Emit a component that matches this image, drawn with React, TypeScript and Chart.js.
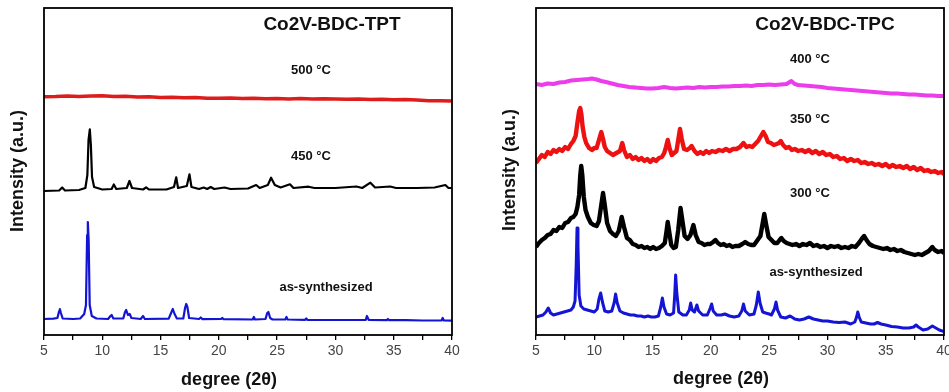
import React, { useEffect, useRef } from 'react';
import { Chart, registerables } from 'chart.js';
Chart.register(...registerables);

type P = [number, number];

const xMin = 5;
const xMax = 40;
const xStep = 2.5;
const yMax = 327;

// Left panel: Co2V-BDC-TPT
const tptAsSynth: P[] = [[5,16],[5.8,16.3],[6.15,17],[6.3,24],[6.36,26],[6.45,22],[6.6,16.5],[7.5,16],[8.1,16.5],[8.45,21],[8.6,30],[8.7,100],[8.76,113],[8.83,95],[8.92,30],[9.1,19],[9.5,16.5],[10.5,16],[10.7,19],[10.8,20],[10.95,16.5],[11.8,16.5],[11.95,23],[12.05,25],[12.2,20],[12.35,21],[12.5,17],[13.3,16],[13.5,19],[13.65,16],[15.7,16.3],[15.9,22],[16.05,26],[16.2,21],[16.4,16.5],[16.95,16.5],[17.1,27],[17.2,31],[17.3,28],[17.45,17],[18.3,16],[18.45,17.5],[18.6,15.8],[20.2,16.2],[20.3,17],[20.4,15.8],[22.9,15.5],[23,18],[23.1,15.5],[24,16],[24.15,22],[24.25,23],[24.4,17],[24.6,15.5],[25.7,15.5],[25.8,18],[25.9,15.5],[27.4,15.2],[27.5,16.5],[27.6,15],[29.5,15],[32.6,15],[32.7,19],[32.85,15.2],[34.4,14.8],[34.5,16],[34.6,14.8],[36,14.8],[37.5,14.5],[39.1,14.6],[39.2,17],[39.3,14.5],[40,14.3]];
const tpt450: P[] = [[5,144],[6.3,144.5],[6.56,147.5],[6.8,144.5],[8.0,145],[8.55,147],[8.72,160],[8.82,195],[8.93,205.7],[9.02,190],[9.12,158],[9.3,148],[10.0,145.5],[10.8,146],[10.99,150.5],[11.2,146],[12.1,147],[12.33,154],[12.55,147],[13.5,145.5],[13.76,147.7],[14,145.5],[15.5,145.5],[16.15,148],[16.34,157.7],[16.5,147],[17.25,149],[17.48,160.7],[17.65,148],[18.3,146],[18.7,147.5],[19,146],[19.3,148],[19.6,146],[20.48,147.5],[21,146],[22.5,146.5],[23.2,150],[23.5,147],[24.2,150],[24.48,157.3],[24.8,150],[25.3,147.5],[26.1,150.7],[26.4,147],[27.7,148.3],[28.2,147],[30,147],[31.8,148.5],[32.3,147],[33,152.3],[33.4,147.5],[34.7,148.5],[35.2,147],[37,147],[38.5,147.5],[39.43,150],[39.7,147],[40,147]];
const tpt500: P[] = [[5,238.3],[6,238.5],[7,239],[8,238.6],[9,239],[10,239.3],[11,238.5],[12,238.8],[13,238],[14,238.3],[15,237.5],[16,237.8],[17,237.2],[18,237.5],[19,236.8],[20,236.7],[21,237],[22,236.5],[23,236.8],[24,236.3],[25,236.5],[26,236],[27,236.4],[28,236],[29,236.2],[30,236],[31,235.8],[32,236],[33,235.5],[34,235.8],[35,235.3],[36,235.5],[37,235],[38,234.2],[39,234.3],[40,234]];

// Right panel: Co2V-BDC-TPC
const tpcAsSynth: P[] = [[5,18],[5.3,19],[5.6,20],[5.85,23],[6.05,27],[6.25,22],[6.5,20],[6.8,21],[7.1,22],[7.4,23],[7.7,24],[8.0,25],[8.2,28],[8.35,34],[8.45,70],[8.52,107],[8.6,90],[8.7,40],[8.85,29],[9.1,26],[9.4,25],[9.7,24],[10.0,23],[10.25,26],[10.4,36],[10.55,42],[10.7,33],[10.9,24],[11.2,23],[11.5,24],[11.7,32],[11.83,41],[11.97,32],[12.2,24],[12.5,22],[12.8,21],[13.1,20],[13.4,20],[13.7,19],[14,19],[14.3,18],[14.6,19],[14.9,18],[15.2,18],[15.5,19],[15.7,28],[15.84,37],[15.98,28],[16.2,21],[16.5,20],[16.8,22],[16.9,40],[16.98,60],[17.08,42],[17.25,23],[17.6,20],[17.9,20],[18.15,25],[18.27,32],[18.4,25],[18.6,23],[18.8,30],[18.95,24],[19.3,20],[19.7,20],[19.95,27],[20.07,31],[20.2,24],[20.5,20],[20.9,20],[21.2,21],[21.6,19],[22,18],[22.4,19],[22.65,24],[22.8,31],[22.95,24],[23.3,20],[23.7,21],[23.9,30],[24.07,43],[24.22,32],[24.45,23],[24.7,22],[25.0,21],[25.2,20],[25.45,26],[25.59,33],[25.72,25],[26.0,18],[26.4,17],[26.8,19],[27.2,16],[27.6,15],[28,16],[28.4,18],[28.8,16],[29.2,15],[29.6,14],[30,14],[30.5,13],[31,12.5],[31.5,13],[32,11],[32.35,13],[32.5,18],[32.6,23],[32.72,18],[32.9,13],[33.3,12],[33.7,11],[34,11],[34.3,12.5],[34.6,11],[35,10],[35.5,8.5],[36,8],[36.5,7],[37,7],[37.4,8],[37.6,10],[37.8,8],[38.2,5],[38.6,6],[39,9],[39.3,7],[39.6,5],[40,3.5]];
const tpc300: P[] = [[5,88],[5.25,92],[5.5,95],[5.75,97],[6,100],[6.25,101],[6.5,105],[6.75,104],[7,108],[7.25,107],[7.5,112],[7.75,113],[8,117],[8.2,118],[8.4,121],[8.55,128],[8.7,140],[8.8,160],[8.88,169],[8.97,160],[9.1,138],[9.25,125],[9.45,118],[9.7,112],[9.95,110],[10.2,109],[10.4,114],[10.6,130],[10.75,142],[10.9,130],[11.1,112],[11.35,104],[11.6,101],[11.85,99],[12.1,104],[12.35,118],[12.55,108],[12.8,97],[13.05,95],[13.3,91],[13.55,90],[13.8,88],[14.05,89],[14.3,87],[14.55,88],[14.8,86],[15.05,88],[15.3,86],[15.55,87],[15.8,89],[16.05,92],[16.2,104],[16.3,113],[16.42,104],[16.6,90],[16.8,87],[17.0,88],[17.2,105],[17.4,127],[17.55,115],[17.75,99],[18.0,96],[18.25,100],[18.5,110],[18.7,100],[18.95,93],[19.2,92],[19.45,90],[19.7,91],[19.95,91],[20.2,93],[20.4,95],[20.6,92],[20.85,90],[21.1,91],[21.35,89],[21.6,90],[21.85,88],[22.1,89],[22.4,89],[22.7,91],[22.95,93],[23.2,91],[23.45,90],[23.7,90],[23.95,94],[24.25,99],[24.45,112],[24.58,121],[24.75,110],[24.95,98],[25.2,95],[25.45,92],[25.7,92],[25.9,95],[26.05,97],[26.25,94],[26.5,92],[26.75,91],[27,90],[27.3,91],[27.6,89],[27.9,91],[28.2,90],[28.5,92],[28.8,89],[29.1,90],[29.4,88],[29.7,89],[30,87],[30.3,89],[30.6,88],[30.9,89],[31.2,87],[31.5,88],[31.8,87],[32.1,89],[32.4,88],[32.7,92],[33.0,97],[33.15,99],[33.35,95],[33.6,91],[33.9,89],[34.2,88],[34.5,87],[34.8,86],[35.1,87],[35.4,85],[35.7,86],[36,84],[36.3,85],[36.6,83],[36.9,82],[37.2,81],[37.5,80],[37.8,81],[38.1,80],[38.4,82],[38.7,84],[39.0,88],[39.2,85],[39.5,83],[39.8,84],[40,82]];
const tpc350: P[] = [[5,172],[5.25,176],[5.5,180],[5.75,178],[6,183],[6.25,181],[6.5,185],[6.75,183],[7,186],[7.25,184],[7.5,188],[7.75,186],[8,191],[8.2,194],[8.4,199],[8.55,212],[8.7,224],[8.8,227],[8.9,220],[9.0,208],[9.15,198],[9.3,192],[9.55,187],[9.8,185],[10.0,187],[10.2,187],[10.45,197],[10.6,203],[10.75,196],[10.9,188],[11.1,184],[11.35,182],[11.6,180],[11.9,182],[12.2,184],[12.4,192],[12.55,185],[12.8,178],[13.05,180],[13.3,176],[13.55,178],[13.8,175],[14.05,177],[14.3,174],[14.55,176],[14.8,173],[15.05,176],[15.3,174],[15.55,177],[15.8,178],[16.0,182],[16.15,188],[16.3,195],[16.45,187],[16.65,180],[16.85,182],[17.05,184],[17.2,195],[17.35,206],[17.5,196],[17.7,186],[17.95,185],[18.2,187],[18.35,189],[18.6,184],[18.85,181],[19.1,183],[19.35,181],[19.6,184],[19.85,182],[20.1,184],[20.4,183],[20.7,185],[21,184],[21.3,186],[21.6,184],[21.9,186],[22.2,186],[22.5,188],[22.8,192],[23.05,188],[23.3,189],[23.55,188],[23.8,191],[24.05,194],[24.3,199],[24.5,203],[24.7,199],[24.9,193],[25.15,192],[25.4,190],[25.65,191],[25.85,192],[26.0,194],[26.2,190],[26.45,187],[26.7,188],[26.95,185],[27.2,186],[27.5,184],[27.8,185],[28.1,183],[28.4,185],[28.7,182],[29.0,184],[29.3,181],[29.6,183],[29.9,180],[30.2,181],[30.5,178],[30.8,179],[31.1,176],[31.4,177],[31.7,174],[32.0,176],[32.3,174],[32.6,175],[32.9,172],[33.2,173],[33.5,171],[33.8,172],[34.1,170],[34.4,171],[34.7,169],[35,171],[35.3,168],[35.6,170],[35.9,168],[36.2,169],[36.5,167],[36.8,169],[37.1,166],[37.4,168],[37.7,165],[38,167],[38.3,164],[38.6,165],[38.9,163],[39.2,164],[39.5,162],[39.8,163],[40,161]];
const tpc400: P[] = [[5,251],[5.5,250],[6,251.5],[6.5,251],[7,252.5],[7.5,253],[8,254.5],[8.5,255],[9,255.5],[9.5,256],[9.8,256.5],[10.2,255.5],[10.6,254],[11,253],[11.5,251.5],[12,250],[12.5,249],[13,248],[13.5,247.5],[14,247],[14.5,246.5],[15,246.5],[15.5,247],[16,248],[16.5,247],[17,246.5],[17.5,247],[18,247.5],[18.5,247],[19,248],[19.5,247.5],[20,248],[20.5,248],[21,248.5],[21.5,248.5],[22,249],[22.5,249],[23,249.5],[23.5,249],[24,250],[24.5,250],[25,250.5],[25.5,250],[26,250.5],[26.5,251],[26.9,254],[27.2,251],[27.5,250],[28,249.5],[28.5,249],[29,248.5],[29.5,248],[30,247],[30.5,246.5],[31,246],[31.5,245.5],[32,245],[32.5,244.5],[33,244],[33.5,243.5],[34,243],[34.5,242.5],[35,242],[35.5,241.5],[36,241.5],[36.5,241],[37,240.5],[37.5,240.5],[38,240],[38.5,239.5],[39,239.5],[39.5,239],[40,239]];

const leftTitle = 'Co2V-BDC-TPT';
const rightTitle = 'Co2V-BDC-TPC';
const xTitle = 'degree (2θ)';
const yTitle = 'Intensity (a.u.)';

type TextItem = { text: string; x: number; y: number; font: string; rot?: boolean };

const FONT = 'Arial, "Liberation Sans", sans-serif';

function makeChart(
  canvas: HTMLCanvasElement,
  series: { data: P[]; color: string; width: number }[],
  padding: { left: number; right: number; top: number; bottom: number },
  texts: TextItem[]
) {
  const textPlugin = {
    id: 'txt',
    afterDraw(chart: any) {
      const { ctx, chartArea } = chart;
      ctx.save();
      ctx.strokeStyle = '#000';
      ctx.lineWidth = 1.8;
      ctx.strokeRect(chartArea.left, chartArea.top, chartArea.right - chartArea.left, chartArea.bottom - chartArea.top);
      ctx.fillStyle = '#111';
      ctx.textAlign = 'center';
      ctx.textBaseline = 'middle';
      for (const t of texts) {
        ctx.font = t.font;
        if (t.rot) {
          ctx.save();
          ctx.translate(t.x, t.y);
          ctx.rotate(-Math.PI / 2);
          ctx.fillText(t.text, 0, 0);
          ctx.restore();
        } else {
          ctx.fillText(t.text, t.x, t.y);
        }
      }
      ctx.restore();
    },
  };
  return new Chart(canvas, {
    type: 'line',
    data: {
      datasets: series.map((s) => ({
        data: s.data.map(([x, y]) => ({ x, y })),
        borderColor: s.color,
        borderWidth: s.width,
        pointRadius: 0,
        tension: 0,
        borderJoinStyle: 'round' as const,
        fill: false,
      })),
    },
    options: {
      responsive: false,
      animation: false,
      devicePixelRatio: 1,
      layout: { padding },
      plugins: { legend: { display: false }, tooltip: { enabled: false }, title: { display: false } },
      scales: {
        x: {
          type: 'linear',
          min: xMin,
          max: xMax,
          border: { display: false },
          grid: { drawOnChartArea: false, drawTicks: true, tickLength: 5, color: '#000', lineWidth: 1.3 },
          ticks: {
            stepSize: xStep,
            autoSkip: false,
            maxRotation: 0,
            padding: 3,
            color: '#444',
            font: { family: FONT, size: 14 },
            callback: (v: any) => (Number(v) % 5 === 0 ? String(v) : ''),
          },
          afterFit: (scale: any) => {
            scale.height = 57;
          },
        },
        y: { display: false, min: 0, max: yMax },
      },
    } as any,
    plugins: [textPlugin],
  });
}

export default function App() {
  const leftRef = useRef<HTMLCanvasElement>(null);
  const rightRef = useRef<HTMLCanvasElement>(null);

  useEffect(() => {
    const bold = (s: number) => `bold ${s}px ${FONT}`;
    const left = makeChart(
      leftRef.current!,
      [
        { data: tptAsSynth, color: '#1414d4', width: 2.2 },
        { data: tpt450, color: '#000000', width: 2.2 },
        { data: tpt500, color: '#dd1c1c', width: 3.5 },
      ],
      { left: 44, right: 23, top: 8, bottom: 0 },
      [
        { text: leftTitle, x: 332, y: 25, font: bold(19) },
        { text: '500 °C', x: 311, y: 70, font: bold(13) },
        { text: '450 °C', x: 311, y: 156, font: bold(13) },
        { text: 'as-synthesized', x: 326, y: 287, font: bold(13) },
        { text: xTitle, x: 229, y: 380, font: bold(18) },
        { text: yTitle, x: 18, y: 171, font: bold(18), rot: true },
      ]
    );
    const right = makeChart(
      rightRef.current!,
      [
        { data: tpcAsSynth, color: '#1414d4', width: 3 },
        { data: tpc300, color: '#000000', width: 4.4 },
        { data: tpc350, color: '#ee1111', width: 4.4 },
        { data: tpc400, color: '#ec3cec', width: 4 },
      ],
      { left: 61, right: 15, top: 8, bottom: 0 },
      [
        { text: rightTitle, x: 350, y: 25, font: bold(19) },
        { text: '400 °C', x: 335, y: 59, font: bold(13) },
        { text: '350 °C', x: 335, y: 119, font: bold(13) },
        { text: '300 °C', x: 335, y: 193, font: bold(13) },
        { text: 'as-synthesized', x: 341, y: 272, font: bold(13) },
        { text: xTitle, x: 246, y: 379, font: bold(18) },
        { text: yTitle, x: 35, y: 170, font: bold(18), rot: true },
      ]
    );
    return () => {
      left.destroy();
      right.destroy();
    };
  }, []);

  return (
    <div style={{ position: 'absolute', left: 0, top: 0, width: 949, height: 392, overflow: 'hidden', background: '#fff' }}>
      <canvas ref={leftRef} width={475} height={392} style={{ position: 'absolute', left: 0, top: 0 }} />
      <canvas ref={rightRef} width={484} height={392} style={{ position: 'absolute', left: 475, top: 0 }} />
    </div>
  );
}
